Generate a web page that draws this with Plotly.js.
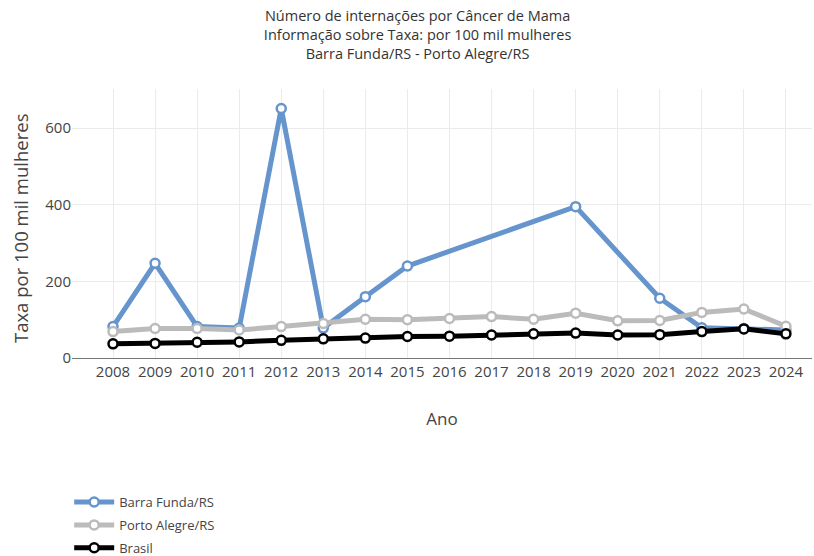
<!DOCTYPE html>
<html>
<head>
<meta charset="utf-8">
<script src="https://cdn.plot.ly/plotly-3.0.1.min.js"></script>
<style>html,body{margin:0;padding:0;background:#fff;}#chart{width:814px;height:556px;}</style>
</head>
<body>
<div id="chart"></div>
<script>
const anos = ["2008","2009","2010","2011","2012","2013","2014","2015","2016","2017","2018","2019","2020","2021","2022","2023","2024"];
const barraFunda = [82, 247, 82, 78, 651, 78, 160, 240, null, null, null, 395, null, 156, 79, 77, 73];
const portoAlegre = [69, 77, 77, 73, 82, 90, 101, 100, 103, 108, 101, 117, 97, 98, 119, 128, 83];
const brasil = [37, 38, 41, 42, 46, 50, 52, 56, 57, 60, 63, 65, 60, 61, 69, 76, 63];
const nomes = ["Barra Funda/RS", "Porto Alegre/RS", "Brasil"];
const cores = ["#6694cc", "#bbbbbb", "#000000"];
const series = [barraFunda, portoAlegre, brasil];
const tituloY = "Taxa por 100 mil mulheres";

const font = "'Open Sans', sans-serif";
const traces = series.map((vals, i) => ({
  x: anos, y: vals, name: nomes[i], type: "scatter", mode: "lines+markers",
  connectgaps: true, legendgroup: "g" + i,
  line: {color: cores[i], width: 5},
  marker: {symbol: "circle", size: 9, color: "#ffffff", line: {color: cores[i], width: 2.5}}
}));

const layout = {
  width: 814, height: 556,
  margin: {l: 72, r: 2, t: 89, b: 198, autoexpand: false},
  paper_bgcolor: "#fff", plot_bgcolor: "#fff",
  font: {family: font, color: "#444"},
  title: {
    text: "Número de internações por Câncer de Mama<br>Informação sobre Taxa: por 100 mil mulheres<br>Barra Funda/RS - Porto Alegre/RS",
    font: {size: 14.5, color: "#333", family: font},
    x: 0.513, xanchor: "center", y: 0.962, yanchor: "top"
  },
  xaxis: {
    type: "category", range: [-0.975, 16.62],
    showgrid: true, gridcolor: "#ebebeb", gridwidth: 1,
    showline: true, linecolor: "#777", linewidth: 1,
    ticks: "", tickangle: 0, tickfont: {size: 15, color: "#444"},
    title: {text: "Ano", font: {size: 17, color: "#444"}, standoff: 33},
    zeroline: false, automargin: true
  },
  yaxis: {
    range: [0, 702], tickvals: [0, 200, 400, 600],
    showgrid: true, gridcolor: "#ebebeb", gridwidth: 1,
    showline: false, zeroline: false, automargin: false,
    tickfont: {size: 15, color: "#444"}, ticks: ""
  },
  annotations: [{
    text: tituloY, textangle: -90, showarrow: false,
    xref: "paper", yref: "paper", x: -0.0703, y: 0.483,
    xanchor: "center", yanchor: "middle",
    font: {size: 18.5, color: "#444", family: font}
  }],
  showlegend: true,
  legend: {
    orientation: "v", xref: "container", yref: "container",
    x: 0.085, xanchor: "left", y: 0.124, yanchor: "top",
    font: {size: 13, color: "#444"}, tracegroupgap: 3, itemwidth: 40
  }
};

Plotly.newPlot("chart", traces, layout, {displayModeBar: false, responsive: false});
</script>
</body>
</html>
